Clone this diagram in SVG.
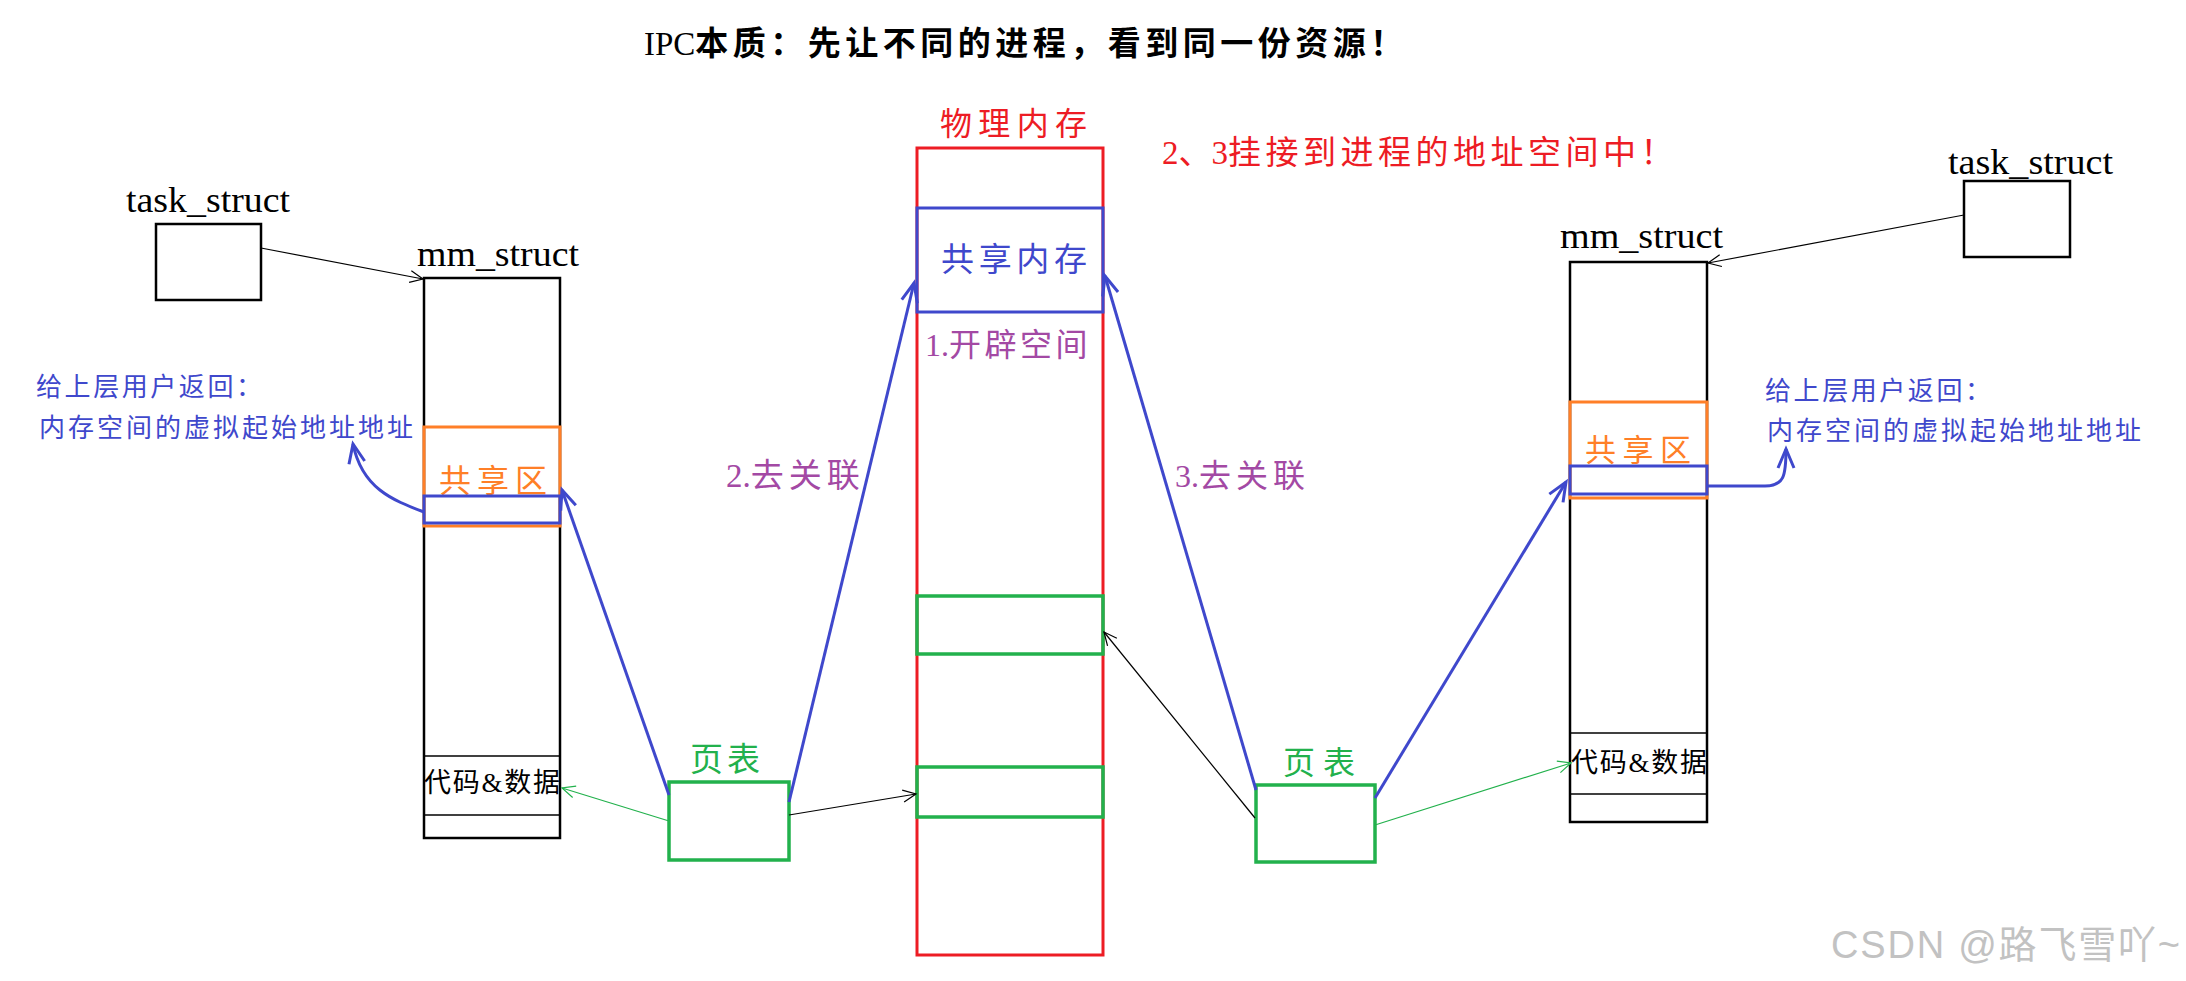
<svg xmlns="http://www.w3.org/2000/svg" width="2186" height="981" viewBox="0 0 2186 981">
<defs>
<style>
.t{font-family:"Liberation Serif","Noto Sans CJK SC",serif;}
.blk{fill:none;stroke:#000;stroke-width:2.5}
.red{fill:none;stroke:#ED1C24;stroke-width:3}
.blu{fill:none;stroke:#3F48CC;stroke-width:3}
.grn{fill:none;stroke:#22B14C;stroke-width:3.5}
.org{fill:none;stroke:#FF7F27;stroke-width:3}
.thin{fill:none;stroke:#000;stroke-width:1.5}
.bl-line{fill:none;stroke:#3F48CC;stroke-width:3;marker-end:url(#ab)}
.k-line{fill:none;stroke:#000;stroke-width:1.2;marker-end:url(#ak)}
.g-line{fill:none;stroke:#22B14C;stroke-width:1.2;marker-end:url(#ag)}
</style>
<marker id="ab" markerUnits="userSpaceOnUse" viewBox="-24 -12 26 24" refX="0" refY="0" markerWidth="26" markerHeight="24" orient="auto" overflow="visible"><path d="M-19,-8 L0,0 L-19,8" fill="none" stroke="#3F48CC" stroke-width="3"/></marker>
<marker id="ak" markerUnits="userSpaceOnUse" viewBox="-16 -8 18 16" refX="0" refY="0" markerWidth="18" markerHeight="16" orient="auto" overflow="visible"><path d="M-13,-6 L0,0 L-13,6" fill="none" stroke="#000" stroke-width="1.2"/></marker>
<marker id="ag" markerUnits="userSpaceOnUse" viewBox="-16 -8 18 16" refX="0" refY="0" markerWidth="18" markerHeight="16" orient="auto" overflow="visible"><path d="M-13,-6 L0,0 L-13,6" fill="none" stroke="#22B14C" stroke-width="1.2"/></marker>
</defs>
<rect width="2186" height="981" fill="#fff"/>

<g id="title">
<text class="t" x="644" y="55" font-size="33" fill="#000">IPC<tspan font-weight="bold" letter-spacing="4.5">本质：先让不同的进程，看到同一份资源！</tspan></text>
</g>
<g id="note-attach">
<text class="t" x="1162" y="164" font-size="33" fill="#ED1C24">2、3<tspan letter-spacing="4.5">挂接到进程的地址空间中！</tspan></text>
</g>

<g id="physical-memory">
<text class="t" x="940" y="135" font-size="32" fill="#ED1C24" textLength="147" lengthAdjust="spacing">物理内存</text>
<rect class="red" x="917" y="148" width="186" height="807"/>
<rect class="blu" x="917" y="208" width="186" height="104"/>
<text class="t" x="941" y="271" font-size="33" fill="#3F48CC" textLength="146" lengthAdjust="spacing">共享内存</text>
<text class="t" x="925" y="356" font-size="32" fill="#A349A4">1.<tspan letter-spacing="3.5">开辟空间</tspan></text>
<rect class="grn" x="917" y="596" width="186" height="58"/>
<rect class="grn" x="917" y="767" width="186" height="50"/>
</g>

<g id="task-struct-left">
<text class="t" x="126" y="212" font-size="35" fill="#000" textLength="164" lengthAdjust="spacingAndGlyphs">task_struct</text>
<rect class="blk" x="156" y="224" width="105" height="76"/>
</g>

<g id="mm-struct-left">
<text class="t" x="417" y="266" font-size="35" fill="#000" textLength="162" lengthAdjust="spacingAndGlyphs">mm_struct</text>
<rect class="blk" x="424" y="278" width="136" height="560"/>
<rect class="org" x="424" y="427" width="136" height="99"/>
<text class="t" x="439" y="492" font-size="32" fill="#FF7F27" textLength="108" lengthAdjust="spacing">共享区</text>
<rect class="blu" x="424" y="496" width="136" height="27"/>
<line class="thin" x1="424" y1="756" x2="560" y2="756"/>
<line class="thin" x1="424" y1="815" x2="560" y2="815"/>
<text class="t" x="424" y="792" font-size="27" fill="#000" textLength="136" lengthAdjust="spacing">代码&amp;数据</text>
</g>

<g id="return-note-left">
<text class="t" x="36" y="396" font-size="26" fill="#3F48CC" textLength="226" lengthAdjust="spacing">给上层用户返回：</text>
<text class="t" x="39" y="437" font-size="26" fill="#3F48CC" textLength="374" lengthAdjust="spacing">内存空间的虚拟起始地址地址</text>
</g>

<g id="page-table-left">
<text class="t" x="690" y="771" font-size="33" fill="#22B14C" textLength="70" lengthAdjust="spacing">页表</text>
<rect class="grn" x="669" y="782" width="120" height="78"/>
</g>

<g id="page-table-right">
<text class="t" x="1283" y="774" font-size="32" fill="#22B14C" textLength="72" lengthAdjust="spacing">页表</text>
<rect class="grn" x="1256" y="785" width="119" height="77"/>
</g>

<g id="task-struct-right">
<text class="t" x="1948" y="174" font-size="35" fill="#000" textLength="165" lengthAdjust="spacingAndGlyphs">task_struct</text>
<rect class="blk" x="1964" y="181" width="106" height="76"/>
</g>

<g id="mm-struct-right">
<text class="t" x="1560" y="248" font-size="35" fill="#000" textLength="163" lengthAdjust="spacingAndGlyphs">mm_struct</text>
<rect class="blk" x="1570" y="262" width="137" height="560"/>
<rect class="org" x="1570" y="402" width="137" height="96"/>
<text class="t" x="1585" y="461" font-size="31" fill="#FF7F27" textLength="106" lengthAdjust="spacing">共享区</text>
<rect class="blu" x="1570" y="466" width="137" height="28"/>
<line class="thin" x1="1570" y1="733" x2="1707" y2="733"/>
<line class="thin" x1="1570" y1="794" x2="1707" y2="794"/>
<text class="t" x="1571" y="772" font-size="27" fill="#000" textLength="136" lengthAdjust="spacing">代码&amp;数据</text>
</g>

<g id="return-note-right">
<text class="t" x="1765" y="400" font-size="26" fill="#3F48CC" textLength="226" lengthAdjust="spacing">给上层用户返回：</text>
<text class="t" x="1767" y="440" font-size="26" fill="#3F48CC" textLength="374" lengthAdjust="spacing">内存空间的虚拟起始地址地址</text>
</g>

<g id="labels">
<text class="t" x="726" y="487" font-size="33" fill="#A349A4">2.<tspan letter-spacing="5">去关联</tspan></text>
<text class="t" x="1175" y="487" font-size="32" fill="#A349A4">3.<tspan letter-spacing="5">去关联</tspan></text>
</g>

<g id="connectors">
<line class="bl-line" x1="669" y1="795" x2="562" y2="490"/>
<line class="bl-line" x1="789" y1="802" x2="914" y2="283"/>
<line class="bl-line" x1="1256" y1="790" x2="1105" y2="276"/>
<line class="bl-line" x1="1375" y1="798" x2="1566" y2="482"/>
<path class="bl-line" d="M424,512 C392,500 362,488 353,444"/>
<path class="bl-line" d="M1707,486 L1765,486 C1784,486 1786,476 1786,449"/>
<line class="k-line" x1="261" y1="248" x2="423" y2="279"/>
<line class="k-line" x1="1964" y1="215" x2="1708" y2="263"/>
<line class="k-line" x1="789" y1="815" x2="916" y2="794"/>
<line class="k-line" x1="1255" y1="818" x2="1104" y2="632"/>
<line class="g-line" x1="669" y1="821" x2="562" y2="788"/>
<line class="g-line" x1="1375" y1="825" x2="1571" y2="763"/>
</g>

<g id="watermark">
<text x="1831" y="958" font-size="38" font-family="Liberation Sans,Noto Sans CJK SC,sans-serif" fill="#c2c2c2" textLength="349" lengthAdjust="spacing">CSDN @路飞雪吖~</text>
</g>
</svg>
